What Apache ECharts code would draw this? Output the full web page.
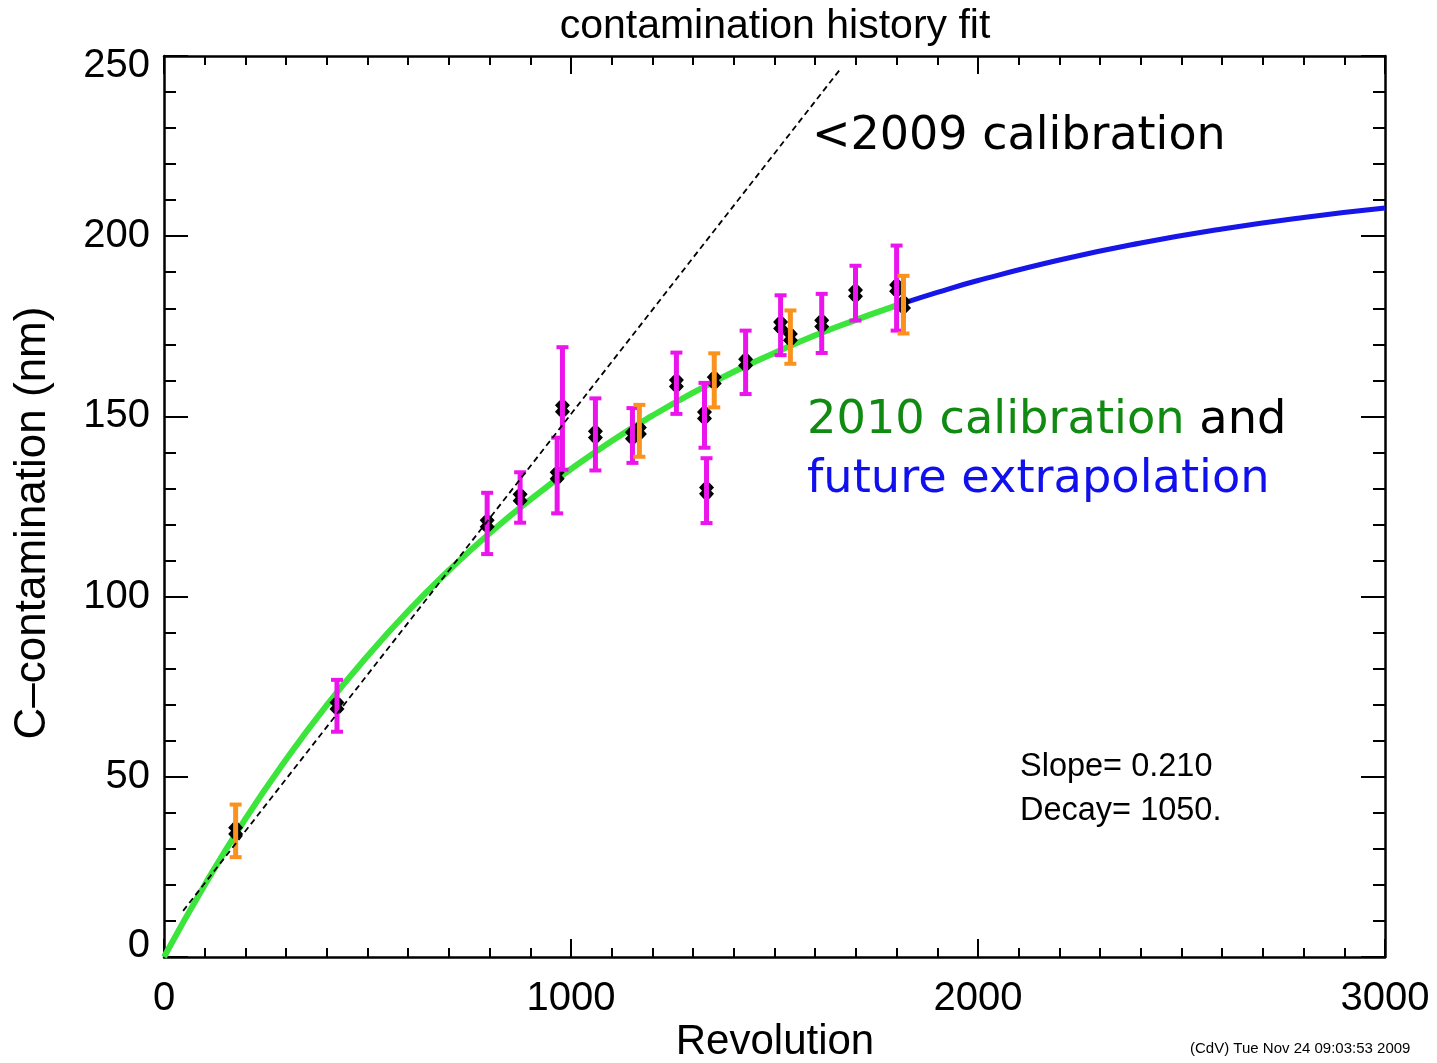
<!DOCTYPE html>
<html>
<head>
<meta charset="utf-8">
<script src="https://cdn.jsdelivr.net/npm/echarts@6/dist/echarts.min.js"></script>
<style>html,body{margin:0;padding:0;background:#fff}#c{width:1437px;height:1063px}</style>
</head>
<body>
<div id="c"></div>
<script>
// ---- data ----
// measurements with orange error bars: [revolution, contamination, error]
var orangePts = [[176, 35, 7.3], [1168, 146, 7.2], [1352, 160, 7.5], [1539, 172, 7.4], [1817, 181, 8]];
// measurements with magenta error bars
var magentaPts = [[425, 69.7, 7.2], [794, 120.3, 8.5], [875, 127.5, 7], [966, 133.6, 10.5], [979, 152.2, 17],
  [1060, 145, 10], [1151, 144.7, 7.6], [1259, 159.2, 8.5], [1328, 150.3, 9], [1333, 129.4, 9],
  [1429, 165, 8.8], [1515, 175.3, 8.3], [1616, 175.8, 8.2], [1699, 184.2, 7.6], [1800, 185.6, 11.8]];
// 2010 calibration fit (green) and extrapolation (blue)
var greenRev = [0, 100, 200, 300, 400, 500, 600, 700, 800, 900, 1000, 1100, 1200, 1300, 1400, 1500, 1600, 1700, 1800, 1817];
var greenVal = [0, 20.0, 38.3, 54.8, 69.9, 83.5, 96.0, 107.3, 117.6, 126.9, 135.4, 143.2, 150.2, 156.6, 162.4, 167.6, 172.5, 176.8, 180.8, 181.4];
var blueRev = [1817, 1900, 2000, 2200, 2400, 2600, 2800, 3000];
var blueVal = [181.4, 184.4, 187.7, 193.4, 198.1, 202.0, 205.2, 207.8];
// <2009 calibration (dashed)
var oldRev = [47, 1662];
var oldVal = [12.8, 246.4];
// axes
var xTicks = [0, 1000, 2000, 3000];
var yTicks = [0, 50, 100, 150, 200, 250];

function pairs(a, b) { return a.map(function (v, i) { return [v, b[i]]; }); }

var chart = echarts.init(document.getElementById('c'), null, { renderer: 'canvas' });
var LF = 'Liberation Sans';
var axisCommon = {
  axisLine: { show: true, onZero: false, lineStyle: { color: '#000', width: 2.5 } },
  splitLine: { show: false }
};
function errRender(color) {
  return function (params, api) {
    var x = api.value(0), y = api.value(1), e = api.value(2);
    var top = api.coord([x, y + e]);
    var bot = api.coord([x, y - e]);
    var st = { stroke: color, lineWidth: 5 };
    return {
      type: 'group',
      children: [
        { type: 'line', shape: { x1: top[0], y1: top[1], x2: bot[0], y2: bot[1] }, style: st },
        { type: 'line', shape: { x1: top[0] - 6, y1: top[1], x2: top[0] + 6, y2: top[1] }, style: { stroke: color, lineWidth: 4 } },
        { type: 'line', shape: { x1: bot[0] - 6, y1: bot[1], x2: bot[0] + 6, y2: bot[1] }, style: { stroke: color, lineWidth: 4 } }
      ]
    };
  };
}
var markerPath = 'path://M3,0 L7,0 L10,3 L8,5 L10,7 L7,10 L3,10 L0,7 L2,5 L0,3 Z';
var allPts = magentaPts.concat(orangePts).map(function (p) { return [p[0], p[1]]; });

var option = {
  animation: false,
  backgroundColor: '#fff',
  grid: { left: 164, right: 52, top: 56, bottom: 106 },
  xAxis: [
    Object.assign({}, axisCommon, {
      type: 'value', min: 0, max: 3000, interval: 1000, position: 'bottom',
      axisTick: { show: true, inside: true, length: 18, lineStyle: { color: '#000', width: 2 } },
      minorTick: { show: true, splitNumber: 10, length: 9, lineStyle: { color: '#000', width: 2 } },
      axisLabel: { show: true, margin: 22, fontFamily: LF, fontSize: 40, color: '#000',
        formatter: function (v) { return xTicks.indexOf(v) >= 0 ? String(v) : ''; } }
    }),
    Object.assign({}, axisCommon, {
      type: 'value', min: 0, max: 3000, interval: 1000, position: 'top',
      axisTick: { show: true, inside: true, length: 18, lineStyle: { color: '#000', width: 2 } },
      minorTick: { show: true, splitNumber: 10, length: 9, lineStyle: { color: '#000', width: 2 } },
      axisLabel: { show: false }
    })
  ],
  yAxis: [
    Object.assign({}, axisCommon, {
      type: 'value', min: 0, max: 250, interval: 50, position: 'left',
      axisTick: { show: true, inside: true, length: 24, lineStyle: { color: '#000', width: 2 } },
      minorTick: { show: true, splitNumber: 5, length: 12, lineStyle: { color: '#000', width: 2 } },
      axisLabel: { show: true, margin: 14, fontFamily: LF, fontSize: 40, color: '#000',
        formatter: function (v) {
          if (yTicks.indexOf(v) < 0) return '';
          if (v === 0) return '{b|0}';
          if (v === 250) return '{t|250}';
          return String(v);
        },
        rich: {
          b: { fontFamily: LF, fontSize: 40, color: '#000', padding: [0, 0, 22, 0] },
          t: { fontFamily: LF, fontSize: 40, color: '#000', padding: [20, 0, 0, 0] }
        }
      }
    }),
    Object.assign({}, axisCommon, {
      type: 'value', min: 0, max: 250, interval: 50, position: 'right',
      axisTick: { show: true, inside: true, length: 24, lineStyle: { color: '#000', width: 2 } },
      minorTick: { show: true, splitNumber: 5, length: 12, lineStyle: { color: '#000', width: 2 } },
      axisLabel: { show: false }
    })
  ],
  series: [
    { type: 'line', data: pairs(greenRev, greenVal), smooth: true, showSymbol: false, symbol: 'none',
      lineStyle: { color: '#3be53b', width: 6 }, z: 2 },
    { type: 'line', data: pairs(blueRev, blueVal), smooth: true, showSymbol: false, symbol: 'none',
      lineStyle: { color: '#1616e8', width: 5 }, z: 2 },
    { type: 'scatter', data: allPts, symbol: markerPath, symbolSize: [15, 16],
      itemStyle: { color: '#000', opacity: 1 }, z: 3 },
    { type: 'custom', data: magentaPts, renderItem: errRender('#ec14ec'), encode: { x: 0, y: 1 }, z: 4 },
    { type: 'custom', data: orangePts, renderItem: errRender('#fb921e'), encode: { x: 0, y: 1 }, z: 4 },
    { type: 'line', data: pairs(oldRev, oldVal), showSymbol: false, symbol: 'none',
      lineStyle: { color: '#000', width: 1.8, type: [6, 4] }, z: 5 }
  ],
  graphic: [
    { type: 'text', x: 775, y: 27, style: { text: 'contamination history fit', font: '41px "Liberation Sans"', fill: '#000', align: 'center', verticalAlign: 'middle' } },
    { type: 'text', x: 775, y: 1042, style: { text: 'Revolution', font: '42px "Liberation Sans"', fill: '#000', align: 'center', verticalAlign: 'middle' } },
    { type: 'text', x: 33, y: 523, rotation: Math.PI / 2, style: { text: 'C\u2013contamination (nm)', font: '44px "Liberation Sans"', fill: '#000', align: 'center', verticalAlign: 'middle' } },
    { type: 'text', x: 812, y: 137, style: { text: '<2009 calibration', font: '46px "DejaVu Sans"', fill: '#000', align: 'left', verticalAlign: 'middle' } },
    { type: 'text', x: 807, y: 421, style: { text: '{g|2010 calibration} {k|and}', font: '46.3px "DejaVu Sans"', align: 'left', verticalAlign: 'middle',
        rich: { g: { font: '46.3px "DejaVu Sans"', fill: '#118a11' }, k: { font: '46.3px "DejaVu Sans"', fill: '#000' } } } },
    { type: 'text', x: 807, y: 480, style: { text: 'future extrapolation', font: '46.3px "DejaVu Sans"', fill: '#1010ee', align: 'left', verticalAlign: 'middle' } },
    { type: 'text', x: 1020, y: 767, style: { text: 'Slope= 0.210', font: '32.5px "Liberation Sans"', fill: '#000', align: 'left', verticalAlign: 'middle' } },
    { type: 'text', x: 1020, y: 811, style: { text: 'Decay= 1050.', font: '32.5px "Liberation Sans"', fill: '#000', align: 'left', verticalAlign: 'middle' } },
    { type: 'text', x: 1190, y: 1049, style: { text: '(CdV) Tue Nov 24 09:03:53 2009', font: '15px "Liberation Sans"', fill: '#000', align: 'left', verticalAlign: 'middle' } }
  ]
};
chart.setOption(option);
</script>
</body>
</html>
